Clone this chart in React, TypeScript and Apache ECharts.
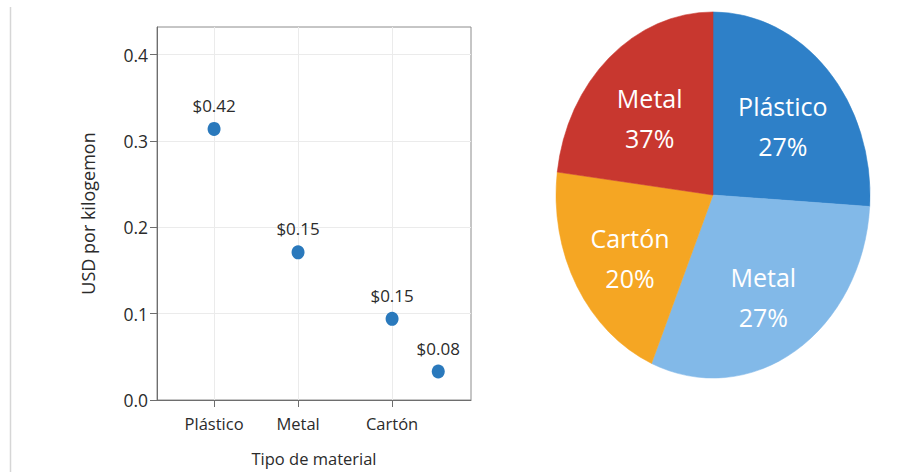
import React, { useEffect, useRef } from "react";
import * as echarts from "echarts";

// ---- Scatter data (left panel) ----
const categoryNames = ["Plástico", "Metal", "Cartón"];
const categoryPositions = [1, 2, 3.12];
const pointX = [1, 2, 3.12, 3.67];
const pointY = [0.314, 0.171, 0.094, 0.033];
const pointLabels = ["$0.42", "$0.15", "$0.15", "$0.08"];
const yTicks = [0, 0.1, 0.2, 0.3, 0.4];

// ---- Pie data (right panel) ----
const pieNames = ["Plástico", "Metal", "Cartón", "Metal"];
const piePercentLabels = ["27%", "27%", "20%", "37%"];
const pieShares = [26.0, 30.4, 20.6, 23.0];
const pieColors = ["#2e80c8", "#82b9e8", "#f5a623", "#c8372f"];

const FONT = "'Open Sans', 'Noto Sans', sans-serif";

export default function App() {
  const ref = useRef<HTMLDivElement>(null);

  useEffect(() => {
    if (!ref.current) return;
    const chart = echarts.init(ref.current, null, { renderer: "svg" });

    const total = pieShares.reduce((a, b) => a + b, 0);
    const cx = 713;
    const cy = 195;
    const rx = 157;
    const ry = 183;

    const nearIdx = (v: number) =>
      categoryPositions.findIndex((p) => Math.abs(p - v) < 1e-6);

    chart.setOption({
      animation: false,
      backgroundColor: "#ffffff",
      textStyle: { fontFamily: FONT },
      grid: {
        left: 157,
        right: 438,
        top: 27,
        bottom: 71,
        show: true,
        borderColor: "#8c8c8c",
        borderWidth: 1,
        backgroundColor: "transparent",
      },
      xAxis: {
        type: "value",
        min: 0.32,
        max: 4.06,
        axisLine: { show: true, lineStyle: { color: "#6e6e6e", width: 1 } },
        axisTick: {
          show: true,
          customValues: categoryPositions,
          length: 7,
          lineStyle: { color: "#6e6e6e" },
        },
        axisLabel: {
          customValues: categoryPositions,
          formatter: (v: number) => {
            const i = nearIdx(v);
            return i >= 0 ? categoryNames[i] : "";
          },
          color: "#2b2b2b",
          fontSize: 16.5,
          margin: 15,
          fontFamily: FONT,
        },
        splitLine: { show: true, lineStyle: { color: "#ebebeb", width: 1 } },
        name: "Tipo de material",
        nameLocation: "middle",
        nameGap: 50,
        nameTextStyle: { color: "#2b2b2b", fontSize: 16.5, fontFamily: FONT },
      },
      yAxis: {
        type: "value",
        min: 0,
        max: 0.432,
        axisLine: { show: true, lineStyle: { color: "#6e6e6e", width: 1 } },
        axisTick: {
          show: true,
          customValues: yTicks,
          length: 7,
          lineStyle: { color: "#6e6e6e" },
        },
        axisLabel: {
          customValues: yTicks,
          formatter: (v: number) => v.toFixed(1),
          color: "#2b2b2b",
          fontSize: 17.5,
          margin: 9,
          fontFamily: FONT,
        },
        splitLine: { show: true, lineStyle: { color: "#ebebeb", width: 1 } },
        name: "USD por kilogemon",
        nameLocation: "middle",
        nameGap: 60,
        nameTextStyle: { color: "#2b2b2b", fontSize: 18, fontFamily: FONT },
      },
      graphic: [
        {
          type: "line",
          shape: { x1: 10.5, y1: 7, x2: 10.5, y2: 472 },
          style: { stroke: "#d6d6d6", lineWidth: 1.5 },
          silent: true,
        },
      ],
      series: [
        {
          type: "scatter",
          data: pointX.map((x, i) => [x, pointY[i]]),
          symbol: "circle",
          symbolSize: [13, 14],
          itemStyle: { color: "#2a79bc", opacity: 1 },
          label: {
            show: true,
            position: "top",
            distance: 8,
            formatter: (p: any) => pointLabels[p.dataIndex],
            color: "#2b2b2b",
            fontSize: 17,
            fontFamily: FONT,
          },
        },
        {
          type: "custom",
          coordinateSystem: "none",
          data: pieShares.map((v) => [v]),
          renderItem: (params: any, api: any) => {
            const i = params.dataIndex;
            const value = api.value(0);
            let cum = 0;
            for (let k = 0; k < i; k++) cum += pieShares[k];
            const start = -Math.PI / 2 + (2 * Math.PI * cum) / total;
            const end = start + (2 * Math.PI * value) / total;
            const mid = (start + end) / 2;
            const f = 0.61;
            const lx = cx + rx * f * Math.cos(mid);
            const ly = cy + ry * f * Math.sin(mid) + 7;
            return {
              type: "group",
              children: [
                {
                  type: "sector",
                  x: cx,
                  y: cy,
                  scaleY: ry / rx,
                  shape: {
                    cx: 0,
                    cy: 0,
                    r0: 0,
                    r: rx,
                    startAngle: start,
                    endAngle: end,
                    clockwise: true,
                  },
                  style: { fill: pieColors[i], stroke: pieColors[i], lineWidth: 0.5 },
                },
                {
                  type: "text",
                  x: lx,
                  y: ly,
                  style: {
                    text: pieNames[i] + "\n" + piePercentLabels[i],
                    fill: "#ffffff",
                    fontSize: 25,
                    lineHeight: 40,
                    fontFamily: FONT,
                    align: "center",
                    verticalAlign: "middle",
                  },
                },
              ],
            };
          },
        },
      ],
    });

    return () => chart.dispose();
  }, []);

  return (
    <div
      ref={ref}
      style={{ position: "fixed", left: 0, top: 0, width: 909, height: 472 }}
    />
  );
}
